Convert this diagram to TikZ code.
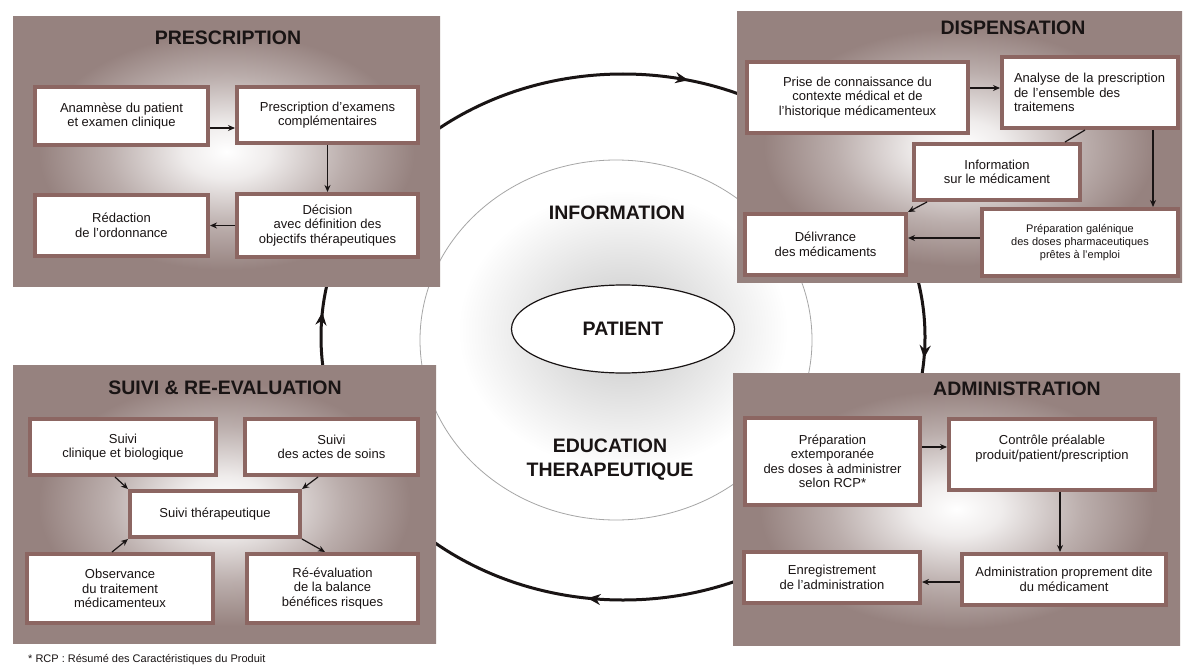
\documentclass[tikz,border=0pt]{standalone}
\usepackage{fontspec}
\setmainfont{Liberation Sans}
\usetikzlibrary{arrows.meta,decorations.markings,shapes.geometric}
\definecolor{panelc}{RGB}{150,130,127}
\definecolor{boxrim}{RGB}{140,102,98}
\definecolor{inkc}{RGB}{25,20,20}
\pgfdeclareradialshading{panelglow}{\pgfpoint{0bp}{0bp}}{color(0bp)=(white); color(5bp)=(white!85!panelc); color(14bp)=(white!35!panelc); color(22bp)=(panelc); color(50bp)=(panelc)}
\tikzset{bigtip/.tip={Stealth[length=13pt,width=11pt]}}
\begin{document}
\begin{tikzpicture}[x=1pt,y=-1pt,
  panel/.style={rectangle, inner sep=0pt, outer sep=0pt, shade, shading=panelglow},
  ptitle/.style={inner sep=0pt, font=\fontsize{19.5}{22}\selectfont\bfseries, text=inkc},
  box/.style={rectangle, draw=boxrim, line width=4pt, fill=white, align=center, inner sep=2pt,
              font=\fontsize{13}{14.5}\selectfont, text=inkc},
  arr/.style={draw=inkc, line width=1.2pt, -{Stealth[length=7pt,width=6pt]}},
  link/.style={draw=inkc, line width=1.2pt},
  bigtext/.style={inner sep=0pt, align=center, font=\fontsize{19.5}{24}\selectfont\bfseries, text=inkc},
  cyc/.style={draw=inkc, line width=3pt}
]
\useasboundingbox[fill=white] (0,0) rectangle (1185,666);

% centre
\draw[gray!70, line width=0.8pt] (616,340) ellipse [x radius=196, y radius=180];
\shade[inner color=black!22, outer color=white] (623,330) ellipse [x radius=165, y radius=140];
\draw[cyc, postaction={decorate}, decoration={markings,
   mark=at position 0.012 with {\arrow{bigtip}},
   mark=at position 0.27 with {\arrow{bigtip}},
   mark=at position 0.514 with {\arrow{bigtip}},
   mark=at position 0.787 with {\arrow{bigtip}}}]
   (623,337) ellipse [x radius=302, y radius=263];
\node[ellipse, draw=inkc, line width=1.2pt, fill=white, minimum width=223pt, minimum height=88pt,
      inner sep=0pt, font=\fontsize{19.5}{22}\selectfont\bfseries, text=inkc] (pat) at (623,329) {PATIENT};
\node[bigtext] (info) at (617,213) {INFORMATION};
\node[bigtext] (edu) at (610,460) {EDUCATION\\THERAPEUTIQUE};

% PRESCRIPTION
\node[panel, minimum width=427pt, minimum height=269pt] (P) at (226.5,151.5) {};
\node[ptitle] (Pt) at (228,38) {PRESCRIPTION};
\node[box, minimum width=173pt, minimum height=58pt] (A1) at (121.5,116) {Anamnèse du patient\\et examen clinique};
\node[box, minimum width=181pt, minimum height=56pt] (A2) at (327.5,115) {Prescription d'examens\\complémentaires};
\node[box, minimum width=181pt, minimum height=63pt] (A3) at (327.5,225.5) {Décision\\avec définition des\\objectifs thérapeutiques};
\node[box, minimum width=173pt, minimum height=61pt] (A4) at (121.5,225.5) {Rédaction\\de l'ordonnance};
\draw[arr] (A1.east |- 0,128) -- (A2.west |- 0,128);
\draw[arr] (A2.south) -- (A3.north);
\draw[arr] (A3.west) -- (A4.east);

% DISPENSATION
\node[panel, minimum width=445pt, minimum height=270pt] (D) at (959.5,147) {};
\node[ptitle] (Dt) at (1013,28) {DISPENSATION};
\node[box, minimum width=221pt, minimum height=71pt] (D1) at (857.5,97.5) {Prise de connaissance du\\contexte médical et de\\l'historique médicamenteux};
\node[box, minimum width=176pt, minimum height=71pt, text width=152pt, align=left] (D2) at (1090,92.5) {Analyse de la prescription\\de l'ensemble des\\traitemens};
\node[box, minimum width=166pt, minimum height=56pt] (D3) at (997,172) {Information\\sur le médicament};
\node[box, minimum width=161pt, minimum height=61pt] (D4) at (825.5,244.5) {Délivrance\\des médicaments};
\node[box, minimum width=196pt, minimum height=67pt, font=\fontsize{11}{13}\selectfont] (D5) at (1080,242.5) {Préparation galénique\\des doses pharmaceutiques\\prêtes à l'emploi};
\draw[arr] (D1.east |- 0,88) -- (D2.west |- 0,88);
\draw[arr] (D2.south -| 1153,0) -- (D5.north -| 1153,0);
\draw[link] (D2.south -| 1085,0) -- (D3.north -| 1065,0);
\draw[arr] (D3.south -| 927,0) -- (D4.north east);
\draw[arr] (D5.west |- 0,238) -- (D4.east |- 0,238);

% ADMINISTRATION
\node[panel, minimum width=447pt, minimum height=272pt] (M) at (956.5,509) {};
\node[ptitle] (Mt) at (1017,389) {ADMINISTRATION};
\node[box, minimum width=175pt, minimum height=87pt] (M1) at (832.5,461.5) {Préparation\\extemporanée\\des doses à administrer\\selon RCP*};
\node[box, minimum width=206pt, minimum height=71pt] (M2) at (1052,454.5) {Contrôle préalable\\produit/patient/prescription\\~};
\node[box, minimum width=176pt, minimum height=51pt] (M3) at (832,577.5) {Enregistrement\\de l'administration};
\node[box, minimum width=204pt, minimum height=51pt] (M4) at (1064,579.5) {Administration proprement dite\\du médicament};
\draw[arr] (M1.east |- 0,447) -- (M2.west |- 0,447);
\draw[arr] (M2.south -| 1060,0) -- (M4.north -| 1060,0);
\draw[arr] (M4.west |- 0,582) -- (M3.east |- 0,582);

% SUIVI
\node[panel, minimum width=423pt, minimum height=278pt] (S) at (224.5,504) {};
\node[ptitle] (St) at (225,388) {SUIVI \& RE-EVALUATION};
\node[box, minimum width=186pt, minimum height=56pt] (S1) at (123,447) {Suivi\\clinique et biologique};
\node[box, minimum width=173pt, minimum height=56pt] (S2) at (331.5,447) {Suivi\\des actes de soins};
\node[box, minimum width=170pt, minimum height=46pt] (S3) at (215,514) {Suivi thérapeutique};
\node[box, minimum width=186pt, minimum height=69pt] (S4) at (120,588.5) {Observance\\du traitement\\médicamenteux};
\node[box, minimum width=171pt, minimum height=69pt] (S5) at (332.5,588.5) {Ré-évaluation\\de la balance\\bénéfices risques};
\draw[arr] (S1.south -| 115,0) -- (S3.north west);
\draw[arr] (S2.south -| 318,0) -- (S3.north east);
\draw[arr] (S4.north -| 112,0) -- (S3.south west);
\draw[arr] (S3.south east) -- (S5.north -| 325,0);

% footnote
\node[anchor=base west, inner sep=0pt, font=\fontsize{11}{13}\selectfont, text=inkc] (fn) at (28,662) {* RCP : Résumé des Caractéristiques du Produit};
\end{tikzpicture}
\end{document}
